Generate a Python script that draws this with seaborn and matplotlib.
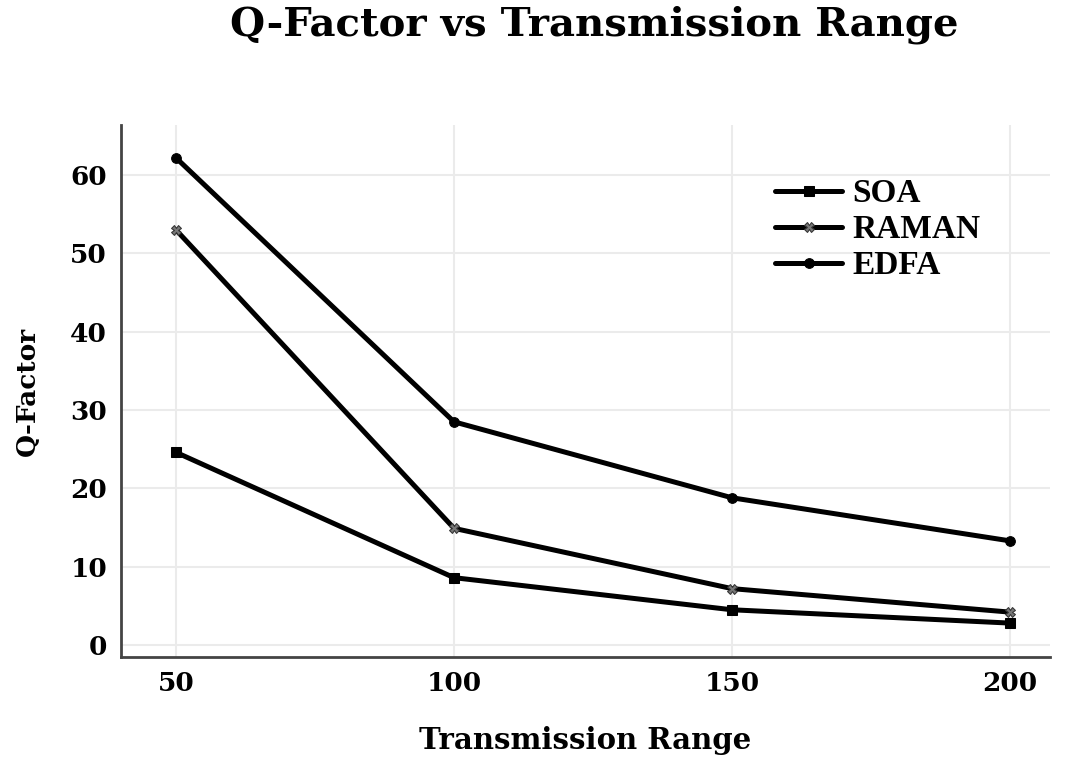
import matplotlib
matplotlib.use("Agg")
import matplotlib.pyplot as plt
import seaborn as sns
import pandas as pd

ranges = [50, 100, 150, 200]
soa = [24.6, 8.6, 4.5, 2.8]
raman = [53.0, 14.9, 7.2, 4.2]
edfa = [62.2, 28.5, 18.8, 13.3]
series_names = ["SOA", "RAMAN", "EDFA"]
yticks = [0, 10, 20, 30, 40, 50, 60]

df = pd.DataFrame({
    "Transmission Range": ranges * 3,
    "Q-Factor": soa + raman + edfa,
    "Series": [s for s in series_names for _ in ranges],
})

sns.set_theme(style="whitegrid")
plt.rcParams["font.family"] = ["DejaVu Serif"]

fig = plt.figure(figsize=(10.65, 7.57), dpi=100)
ax = fig.add_axes([121 / 1065, 1 - 657 / 757, (1050 - 121) / 1065, (657 - 125) / 757])

sns.lineplot(
    data=df, x="Transmission Range", y="Q-Factor", hue="Series", style="Series",
    palette={"SOA": "black", "RAMAN": "black", "EDFA": "black"},
    markers={"SOA": "s", "RAMAN": "X", "EDFA": "o"},
    dashes=False, linewidth=3.6, markersize=7, ax=ax,
)
for line in ax.get_lines():
    if line.get_marker() == "X":
        line.set_markerfacecolor("#777777")
        line.set_markeredgecolor("#333333")
    else:
        line.set_markeredgecolor("black")

ax.set_xlim(40.1, 207.2)
ax.set_ylim(-1.53, 66.4)
ax.set_xticks(ranges)
ax.set_yticks(yticks)
ax.grid(True, color="#ebebeb", linewidth=1.5)
for s in ["top", "right"]:
    ax.spines[s].set_visible(False)
for s in ["left", "bottom"]:
    ax.spines[s].set_color("#444444")
    ax.spines[s].set_linewidth(2)
ax.tick_params(axis="both", length=0, pad=10)
for lab in ax.get_xticklabels() + ax.get_yticklabels():
    lab.set_fontweight("heavy")
    lab.set_fontsize(19)
    lab.set_color("black")

ax.set_xlabel("Transmission Range", fontsize=21, fontweight="heavy", labelpad=22, color="black")
ax.set_ylabel("Q-Factor", fontsize=19, fontweight="heavy", labelpad=22, color="black")
fig.text(594 / 1065, 1 - 25 / 757, "Q-Factor vs Transmission Range", ha="center", va="center",
         fontsize=29, fontweight="heavy", color="black")

leg = ax.legend(loc="upper left", bbox_to_anchor=(0.69, 0.925), frameon=False,
                prop={"family": "Liberation Serif", "weight": "bold", "size": 24},
                handlelength=2.0, handletextpad=0.3, labelspacing=0.15, borderaxespad=0)
for h in leg.legend_handles:
    h.set_linewidth(3.6)
for t in leg.get_texts():
    t.set_color("black")

fig.savefig("out.png", dpi=100, facecolor="white")
